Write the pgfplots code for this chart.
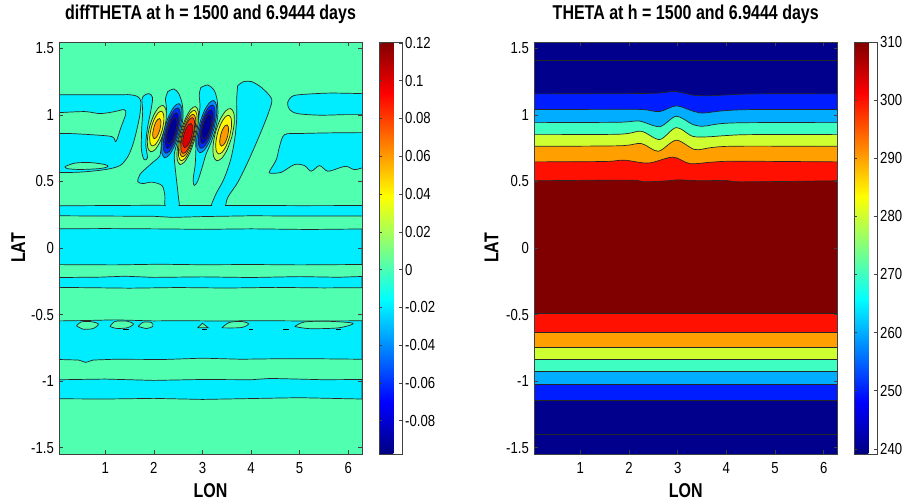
\documentclass[border=0pt]{standalone}
\usepackage{pgfplots}
\pgfplotsset{compat=1.18}
\usepackage{fontspec}
\setmainfont{Liberation Sans}
\newfontfamily\tickfont{Liberation Sans}[FakeStretch=0.82]
\newfontfamily\labfont{Liberation Sans}[FakeStretch=0.80]

\definecolor{mintc}{RGB}{80,255,175}
\definecolor{cyanc}{RGB}{0,236,255}
\definecolor{n02}{RGB}{0,143,255}
\definecolor{n04}{RGB}{0,45,255}
\definecolor{n06}{RGB}{0,0,210}
\definecolor{n08}{RGB}{0,0,150}
\definecolor{p02}{RGB}{168,255,87}
\definecolor{p04}{RGB}{255,248,0}
\definecolor{p06}{RGB}{255,155,0}
\definecolor{p08}{RGB}{255,61,0}
\definecolor{p10}{RGB}{221,0,0}
\definecolor{t240}{RGB}{0,0,140}
\definecolor{t250}{RGB}{0,29,255}
\definecolor{t260}{RGB}{0,173,255}
\definecolor{t270}{RGB}{62,255,193}
\definecolor{t280}{RGB}{206,255,49}
\definecolor{t290}{RGB}{255,160,0}
\definecolor{t300}{RGB}{255,16,0}
\definecolor{t310}{RGB}{128,0,0}

\pgfplotsset{
  ct/.style={draw=black!85, line width=0.7pt},
  mainax/.style={
    scale only axis, anchor=south west, height=412pt,
    xmin=0.049, xmax=6.283, ymin=-1.548, ymax=1.548,
    xtick={1,2,3,4,5,6}, xticklabels={1,2,3,4,5,6},
    ytick={-1.5,-1,-0.5,0,0.5,1,1.5}, yticklabels={-1.5,-1,-0.5,0,0.5,1,1.5},
    xticklabel pos=left, yticklabel pos=left,
    xtick pos=both, ytick pos=both,
    tick align=inside, major tick length=4pt,
    tick style={black!75, line width=0.5pt},
    axis line style={black!75, line width=0.6pt},
    axis on top,
    tick label style={font=\fontsize{16}{18}\tickfont},
    xticklabel style={anchor=base, yshift=-20pt, inner sep=0pt},
    yticklabel style={anchor=east, xshift=-5pt, inner sep=0pt},
    title style={font=\fontsize{20}{24}\labfont\bfseries, at={(0.5,1)}, anchor=base, yshift=16pt, inner sep=0pt},
    xlabel style={font=\fontsize{20}{24}\labfont\bfseries, at={(axis description cs:0.5,0)}, anchor=base, yshift=-44pt, inner sep=0pt},
    ylabel style={font=\fontsize{20}{24}\labfont\bfseries, anchor=base, inner sep=0pt},
    xlabel={LON}, ylabel={LAT},
    colormap/jet, colorbar,
  },
  cbar/.style={
    at={(parent axis.north east)}, anchor=north west,
    scale only axis, width=23pt, height=412pt,
    ytick pos=both, yticklabel pos=right,
    tick align=inside, major tick length=3pt,
    tick style={black!75, line width=0.5pt},
    axis line style={black!75, line width=0.6pt},
    yticklabel style={font=\fontsize{16}{18}\tickfont, anchor=west, xshift=3pt, inner sep=0pt},
    scaled y ticks=false,
  },
}

\begin{document}
\begin{tikzpicture}
\useasboundingbox (0,0) rectangle (905pt,502pt);
% ================= LEFT: diffTHETA =================
\begin{axis}[mainax, at={(59pt,48pt)}, width=303pt,
  ylabel style={at={(axis description cs:-0.112,0.5)}},
  title={diffTHETA at h = 1500 and 6.9444 days},
  point meta min=-0.0977, point meta max=0.1205,
  colorbar style={cbar, xshift=8.5pt,
    ytick={-0.08,-0.06,-0.04,-0.02,0,0.02,0.04,0.06,0.08,0.1,0.12},
    yticklabels={-0.08,-0.06,-0.04,-0.02,0,0.02,0.04,0.06,0.08,0.1,0.12}}]
\addplot[fill=mintc, draw=none] coordinates {(0.049,-1.548)(6.283,-1.548)(6.283,1.548)(0.049,1.548)};
% zonal bands
\addplot[fill=cyanc, ct] coordinates {(0.049,0.144)(1.0,0.146)(2.3,0.143)(3.0,0.140)(4.0,0.144)(5.2,0.139)(6.283,0.143)(6.283,-0.124)(5.0,-0.127)(4.0,-0.124)(3.0,-0.126)(2.1,-0.122)(1.2,-0.127)(0.049,-0.125)};
\addplot[fill=cyanc, ct] coordinates {(0.049,-0.222)(0.9,-0.219)(1.4,-0.212)(2.0,-0.221)(3.0,-0.217)(4.0,-0.222)(5.0,-0.215)(5.8,-0.220)(6.283,-0.214)(6.283,-0.298)(5.5,-0.300)(4.5,-0.296)(3.5,-0.301)(2.5,-0.297)(1.5,-0.302)(0.8,-0.299)(0.049,-0.296)};
\addplot[fill=cyanc, ct] coordinates {(0.049,-0.548)(0.6,-0.545)(1.2,-0.540)(2.0,-0.548)(2.6,-0.546)(3.3,-0.549)(4.2,-0.546)(5.2,-0.549)(6.283,-0.547)(6.283,-0.836)(5.5,-0.833)(4.6,-0.832)(3.8,-0.836)(3.0,-0.828)(2.2,-0.838)(1.2,-0.836)(0.75,-0.842)(0.6,-0.860)(0.45,-0.842)(0.049,-0.838)};
\addplot[fill=cyanc, ct] coordinates {(0.049,-0.990)(1.0,-0.985)(2.0,-0.995)(3.0,-0.988)(4.0,-0.990)(4.4,-0.980)(5.5,-0.990)(6.283,-0.988)(6.283,-1.135)(5.0,-1.125)(4.5,-1.128)(3.0,-1.138)(2.0,-1.130)(1.0,-1.135)(0.049,-1.133)};
% islands near -0.58
\addplot[fill=mintc, ct, smooth] coordinates {(0.41,-0.585)(0.50,-0.556)(0.70,-0.553)(0.86,-0.572)(0.75,-0.605)(0.55,-0.610)(0.41,-0.585)};
\addplot[fill=mintc, ct, smooth] coordinates {(1.10,-0.590)(1.20,-0.552)(1.45,-0.550)(1.58,-0.572)(1.45,-0.600)(1.22,-0.604)(1.10,-0.590)};
\addplot[fill=mintc, ct, smooth] coordinates {(1.68,-0.590)(1.78,-0.558)(1.95,-0.560)(1.98,-0.588)(1.85,-0.605)(1.68,-0.590)};
\addplot[fill=mintc, ct] coordinates {(2.90,-0.600)(3.00,-0.565)(3.12,-0.600)(2.90,-0.600)};
\addplot[fill=mintc, ct, smooth] coordinates {(3.40,-0.600)(3.55,-0.560)(3.80,-0.552)(3.95,-0.570)(3.80,-0.598)(3.40,-0.600)};
\addplot[fill=mintc, ct, smooth] coordinates {(4.90,-0.590)(5.10,-0.556)(5.60,-0.551)(6.10,-0.566)(5.80,-0.600)(5.20,-0.606)(4.90,-0.590)};
\addplot[black, line width=1.3pt] coordinates {(1.36,-0.612)(1.48,-0.612)};
\addplot[black, line width=1.3pt] coordinates {(3.00,-0.612)(3.10,-0.612)};
\addplot[black, line width=1.3pt] coordinates {(3.95,-0.612)(4.05,-0.612)};
\addplot[black, line width=1.3pt] coordinates {(4.66,-0.612)(4.78,-0.612)};
\addplot[black, line width=1.3pt] coordinates {(5.74,-0.612)(5.86,-0.612)};
% upper-left region
\addplot[fill=cyanc, ct, smooth] coordinates {(0.049,1.152)(1.302,1.152)(1.507,1.152)(1.671,1.137)(1.733,1.100)(1.713,1.002)(1.651,0.890)(1.569,0.777)(1.466,0.687)(1.302,0.619)(0.994,0.589)(0.480,0.570)(0.049,0.567)};
\addplot[fill=mintc, ct, smooth] coordinates {(0.049,1.017)(0.583,1.025)(0.891,1.010)(1.199,1.025)(1.384,1.040)(1.425,1.010)(1.322,0.905)(1.220,0.800)(1.138,0.837)(0.686,0.852)(0.275,0.860)(0.049,0.860)};
\addplot[fill=mintc, ct, smooth] coordinates {(0.172,0.612)(0.378,0.638)(0.686,0.642)(0.994,0.627)(1.055,0.612)(0.891,0.597)(0.480,0.590)(0.214,0.597)(0.172,0.612)};
% upper-right regions
\addplot[fill=cyanc, ct, smooth] coordinates {(6.283,1.160)(5.614,1.164)(4.998,1.152)(4.834,1.137)(4.752,1.092)(4.793,1.040)(4.957,1.010)(5.409,0.998)(5.922,1.002)(6.283,1.002)};
\addplot[fill=cyanc, ct, smooth] coordinates {(6.283,0.867)(5.614,0.865)(4.998,0.860)(4.690,0.852)(4.587,0.764)(4.520,0.664)(4.382,0.577)(4.400,0.562)(4.622,0.569)(4.895,0.627)(5.100,0.619)(5.238,0.577)(5.409,0.619)(5.579,0.577)(5.819,0.602)(5.957,0.614)(6.127,0.589)(6.283,0.602)};
% negative halos of the wave packet
\addplot[fill=cyanc, ct, smooth] coordinates {(1.795,1.145)(1.897,1.160)(1.975,1.130)(1.935,1.025)(1.870,0.905)(1.835,0.777)(1.870,0.679)(1.800,0.664)(1.745,0.740)(1.750,0.890)(1.770,1.025)(1.754,1.115)(1.795,1.145)};
\addplot[fill=cyanc, ct, smooth] coordinates {(2.287,1.175)(2.411,1.195)(2.513,1.160)(2.585,1.080)(2.600,0.980)(2.545,0.870)(2.470,0.780)(2.420,0.700)(2.440,0.600)(2.470,0.500)(2.500,0.400)(2.513,0.289)(2.246,0.289)(2.226,0.400)(2.164,0.470)(1.959,0.495)(1.774,0.484)(1.671,0.499)(1.713,0.552)(1.856,0.604)(2.000,0.650)(2.120,0.690)(2.150,0.760)(2.160,0.850)(2.205,0.930)(2.260,1.040)(2.240,1.120)(2.287,1.175)};
\addplot[fill=cyanc, ct, smooth] coordinates {(2.965,1.205)(3.109,1.225)(3.232,1.190)(3.300,1.120)(3.318,1.000)(3.265,0.890)(3.175,0.790)(3.070,0.700)(2.990,0.600)(2.900,0.500)(2.830,0.470)(2.810,0.520)(2.850,0.620)(2.865,0.740)(2.862,0.830)(2.905,0.935)(2.950,1.060)(2.935,1.150)(2.965,1.205)};
\addplot[fill=cyanc, ct, smooth] coordinates {(3.725,1.220)(3.848,1.250)(4.012,1.250)(4.218,1.205)(4.423,1.122)(4.382,1.040)(4.258,0.920)(4.094,0.777)(3.910,0.627)(3.725,0.492)(3.520,0.379)(3.437,0.289)(3.170,0.289)(3.273,0.402)(3.437,0.514)(3.581,0.664)(3.663,0.815)(3.704,0.965)(3.704,1.115)(3.725,1.220)};
% band near 0.28
\addplot[fill=cyanc, draw=none] coordinates {(0.049,0.317)(1.0,0.319)(2.0,0.321)(3.0,0.319)(4.0,0.320)(5.0,0.318)(6.283,0.319)(6.283,0.241)(5.0,0.240)(4.0,0.242)(3.0,0.236)(2.4,0.230)(2.0,0.238)(1.0,0.240)(0.049,0.242)};
\addplot[ct] coordinates {(0.049,0.317)(1.0,0.319)(2.0,0.321)(2.241,0.320)};
\addplot[ct] coordinates {(2.509,0.320)(3.0,0.319)(3.197,0.319)};
\addplot[ct] coordinates {(3.465,0.320)(4.0,0.320)(5.0,0.318)(6.283,0.319)};
\addplot[ct] coordinates {(0.049,0.242)(1.0,0.240)(2.0,0.238)(2.4,0.230)(3.0,0.236)(4.0,0.242)(5.0,0.240)(6.283,0.241)};
% ---- level 1 rings
\addplot[fill=p02, ct, smooth] coordinates {(2.211,0.882)(2.127,0.797)(2.026,0.739)(1.934,0.723)(1.877,0.754)(1.869,0.823)(1.913,0.912)(1.997,0.997)(2.098,1.055)(2.190,1.071)(2.247,1.040)(2.255,0.971)(2.211,0.882)};
\addplot[fill=n02, ct, smooth] coordinates {(2.521,0.867)(2.426,0.768)(2.317,0.699)(2.221,0.679)(2.166,0.714)(2.165,0.793)(2.219,0.897)(2.314,0.996)(2.424,1.065)(2.519,1.085)(2.574,1.051)(2.575,0.971)(2.521,0.867)};
\addplot[fill=p02, ct, smooth] coordinates {(2.853,0.830)(2.752,0.723)(2.637,0.649)(2.539,0.627)(2.483,0.664)(2.484,0.749)(2.543,0.860)(2.644,0.967)(2.759,1.041)(2.858,1.063)(2.914,1.026)(2.912,0.941)(2.853,0.830)};
\addplot[fill=n02, ct, smooth] coordinates {(3.239,0.897)(3.147,0.801)(3.039,0.735)(2.944,0.716)(2.888,0.750)(2.886,0.827)(2.937,0.927)(3.029,1.023)(3.137,1.089)(3.232,1.108)(3.288,1.074)(3.290,0.997)(3.239,0.897)};
\addplot[fill=p02, ct, smooth] coordinates {(3.606,0.836)(3.511,0.740)(3.397,0.674)(3.293,0.656)(3.228,0.691)(3.219,0.768)(3.268,0.869)(3.363,0.964)(3.477,1.030)(3.581,1.048)(3.646,1.013)(3.655,0.936)(3.606,0.836)};
% ---- level 2 rings
\addplot[fill=p04, ct, smooth] coordinates {(2.173,0.886)(2.110,0.822)(2.035,0.779)(1.966,0.767)(1.924,0.789)(1.918,0.841)(1.951,0.908)(2.014,0.972)(2.089,1.015)(2.158,1.028)(2.200,1.005)(2.206,0.953)(2.173,0.886)};
\addplot[fill=n04, ct, smooth] coordinates {(2.495,0.870)(2.416,0.786)(2.324,0.728)(2.245,0.712)(2.199,0.741)(2.199,0.807)(2.245,0.894)(2.324,0.978)(2.416,1.036)(2.495,1.052)(2.541,1.024)(2.541,0.957)(2.495,0.870)};
\addplot[fill=p04, ct, smooth] coordinates {(2.833,0.832)(2.746,0.739)(2.646,0.675)(2.560,0.656)(2.511,0.688)(2.512,0.762)(2.563,0.858)(2.650,0.951)(2.750,1.015)(2.836,1.034)(2.885,1.002)(2.884,0.928)(2.833,0.832)};
\addplot[fill=n04, ct, smooth] coordinates {(3.213,0.900)(3.136,0.820)(3.047,0.765)(2.968,0.749)(2.922,0.777)(2.920,0.841)(2.963,0.924)(3.040,1.004)(3.129,1.059)(3.208,1.075)(3.254,1.047)(3.256,0.983)(3.213,0.900)};
\addplot[fill=p04, ct, smooth] coordinates {(3.562,0.840)(3.492,0.769)(3.407,0.720)(3.331,0.707)(3.282,0.733)(3.276,0.790)(3.312,0.864)(3.382,0.935)(3.467,0.984)(3.543,0.997)(3.592,0.972)(3.598,0.914)(3.562,0.840)};
% ---- level 3 rings
\addplot[fill=p06, ct, smooth] coordinates {(2.126,0.891)(2.089,0.854)(2.045,0.828)(2.006,0.821)(1.982,0.834)(1.979,0.864)(1.999,0.903)(2.035,0.941)(2.079,0.966)(2.118,0.973)(2.142,0.960)(2.145,0.930)(2.126,0.891)};
\addplot[fill=n06, ct, smooth] coordinates {(2.469,0.872)(2.407,0.807)(2.334,0.761)(2.272,0.748)(2.235,0.771)(2.235,0.823)(2.271,0.892)(2.333,0.958)(2.406,1.003)(2.468,1.016)(2.505,0.993)(2.505,0.941)(2.469,0.872)};
\addplot[fill=p06, ct, smooth] coordinates {(2.813,0.834)(2.739,0.755)(2.654,0.701)(2.581,0.686)(2.539,0.713)(2.540,0.775)(2.583,0.856)(2.657,0.935)(2.742,0.989)(2.815,1.005)(2.857,0.978)(2.856,0.915)(2.813,0.834)};
\addplot[fill=n06, ct, smooth] coordinates {(3.187,0.902)(3.127,0.840)(3.057,0.797)(2.995,0.785)(2.958,0.807)(2.956,0.857)(2.989,0.922)(3.049,0.984)(3.119,1.027)(3.181,1.039)(3.218,1.017)(3.220,0.967)(3.187,0.902)};
\addplot[fill=p06, ct, smooth] coordinates {(3.516,0.838)(3.478,0.799)(3.431,0.773)(3.389,0.765)(3.362,0.779)(3.358,0.811)(3.378,0.852)(3.416,0.891)(3.463,0.918)(3.506,0.925)(3.532,0.911)(3.536,0.879)(3.516,0.838)};
% ---- level 4 and 5
\addplot[fill=n08, ct, smooth] coordinates {(2.449,0.874)(2.403,0.826)(2.348,0.793)(2.298,0.784)(2.268,0.801)(2.265,0.840)(2.291,0.890)(2.337,0.938)(2.393,0.971)(2.442,0.980)(2.472,0.963)(2.475,0.924)(2.449,0.874)};
\addplot[fill=p08, ct, smooth] coordinates {(2.801,0.835)(2.738,0.769)(2.664,0.724)(2.600,0.711)(2.561,0.734)(2.560,0.787)(2.595,0.855)(2.658,0.921)(2.732,0.966)(2.796,0.979)(2.835,0.956)(2.837,0.903)(2.801,0.835)};
\addplot[fill=n08, ct, smooth] coordinates {(3.167,0.904)(3.122,0.858)(3.068,0.826)(3.019,0.818)(2.989,0.834)(2.985,0.872)(3.009,0.920)(3.054,0.966)(3.108,0.998)(3.157,1.006)(3.188,0.990)(3.191,0.953)(3.167,0.904)};
\addplot[fill=p10, ct, smooth] coordinates {(2.777,0.837)(2.734,0.793)(2.680,0.763)(2.632,0.754)(2.601,0.770)(2.596,0.806)(2.619,0.853)(2.663,0.897)(2.716,0.927)(2.765,0.936)(2.795,0.920)(2.800,0.884)(2.777,0.837)};
\end{axis}
% ================= RIGHT: THETA =================
\begin{axis}[mainax, at={(534pt,48pt)}, width=303.5pt,
  ylabel style={at={(axis description cs:-0.117,0.5)}},
  title={THETA at h = 1500 and 6.9444 days},
  point meta min=239.1, point meta max=310,
  colorbar style={cbar, xshift=8pt,
    ytick={240,250,260,270,280,290,300,310},
    yticklabels={240,250,260,270,280,290,300,310}}]
\addplot[fill=t240, draw=none] coordinates {(0.049,-1.548)(6.283,-1.548)(6.283,1.548)(0.049,1.548)};
\addplot[fill=t250, draw=none, smooth] coordinates {(0.049,1.158)(2.0,1.160)(2.6,1.164)(2.95,1.176)(3.3,1.150)(3.6,1.143)(4.0,1.150)(4.6,1.158)(6.283,1.158)} \closedcycle;
\addplot[fill=t260, draw=none, smooth] coordinates {(0.049,1.040)(1.8,1.042)(2.3,1.040)(2.63,1.025)(2.97,1.068)(3.3,1.030)(3.52,1.014)(3.9,1.030)(4.5,1.040)(6.283,1.040)} \closedcycle;
\addplot[fill=t270, draw=none, smooth] coordinates {(0.049,0.942)(1.8,0.945)(2.2,0.955)(2.63,0.912)(2.97,0.990)(3.3,0.930)(3.52,0.915)(3.9,0.935)(4.5,0.942)(6.283,0.942)} \closedcycle;
\addplot[fill=t280, draw=none, smooth] coordinates {(0.049,0.852)(1.8,0.855)(2.25,0.877)(2.63,0.815)(2.97,0.905)(3.3,0.840)(3.6,0.835)(4.0,0.845)(4.5,0.852)(6.283,0.852)} \closedcycle;
\addplot[fill=t290, draw=none, smooth] coordinates {(0.049,0.764)(1.8,0.768)(2.25,0.785)(2.6,0.727)(2.97,0.810)(3.35,0.740)(3.7,0.755)(4.2,0.765)(6.283,0.764)} \closedcycle;
\addplot[fill=t300, draw=none, smooth] coordinates {(0.049,0.647)(1.5,0.650)(1.9,0.660)(2.4,0.638)(2.9,0.683)(3.25,0.634)(3.7,0.645)(4.2,0.652)(6.283,0.647)} \closedcycle;
\addplot[fill=t310, draw=none, smooth] coordinates {(0.049,0.505)(2.0,0.510)(2.3,0.497)(2.8,0.505)(3.0,0.512)(3.5,0.505)(4.0,0.508)(4.3,0.497)(6.283,0.505)} \closedcycle;
\addplot[fill=t250, draw=none] coordinates {(0.049,-1.143)(6.283,-1.143)(6.283,0)(0.049,0)};
\addplot[fill=t260, draw=none] coordinates {(0.049,-1.025)(6.283,-1.025)(6.283,0)(0.049,0)};
\addplot[fill=t270, draw=none] coordinates {(0.049,-0.925)(6.283,-0.925)(6.283,0)(0.049,0)};
\addplot[fill=t280, draw=none] coordinates {(0.049,-0.835)(6.283,-0.835)(6.283,0)(0.049,0)};
\addplot[fill=t290, draw=none] coordinates {(0.049,-0.745)(6.283,-0.745)(6.283,0)(0.049,0)};
\addplot[fill=t300, draw=none] coordinates {(0.049,-0.632)(6.283,-0.632)(6.283,0)(0.049,0)};
\addplot[fill=t310, draw=none] coordinates {(0.049,-0.492)(6.283,-0.492)(6.283,0)(0.049,0)};
% contour lines
\addplot[ct] coordinates {(0.049,1.412)(6.283,1.412)};
\addplot[ct, smooth] coordinates {(0.049,1.158)(2.0,1.160)(2.6,1.164)(2.95,1.176)(3.3,1.150)(3.6,1.143)(4.0,1.150)(4.6,1.158)(6.283,1.158)};
\addplot[ct, smooth] coordinates {(0.049,1.040)(1.8,1.042)(2.3,1.040)(2.63,1.025)(2.97,1.068)(3.3,1.030)(3.52,1.014)(3.9,1.030)(4.5,1.040)(6.283,1.040)};
\addplot[ct, smooth] coordinates {(0.049,0.942)(1.8,0.945)(2.2,0.955)(2.63,0.912)(2.97,0.990)(3.3,0.930)(3.52,0.915)(3.9,0.935)(4.5,0.942)(6.283,0.942)};
\addplot[ct, smooth] coordinates {(0.049,0.852)(1.8,0.855)(2.25,0.877)(2.63,0.815)(2.97,0.905)(3.3,0.840)(3.6,0.835)(4.0,0.845)(4.5,0.852)(6.283,0.852)};
\addplot[ct, smooth] coordinates {(0.049,0.764)(1.8,0.768)(2.25,0.785)(2.6,0.727)(2.97,0.810)(3.35,0.740)(3.7,0.755)(4.2,0.765)(6.283,0.764)};
\addplot[ct, smooth] coordinates {(0.049,0.647)(1.5,0.650)(1.9,0.660)(2.4,0.638)(2.9,0.683)(3.25,0.634)(3.7,0.645)(4.2,0.652)(6.283,0.647)};
\addplot[ct, smooth] coordinates {(0.049,0.505)(2.0,0.510)(2.3,0.497)(2.8,0.505)(3.0,0.512)(3.5,0.505)(4.0,0.508)(4.3,0.497)(6.283,0.505)};
\addplot[ct] coordinates {(0.049,-0.492)(6.283,-0.492)};
\addplot[ct] coordinates {(0.049,-0.632)(6.283,-0.632)};
\addplot[ct] coordinates {(0.049,-0.745)(6.283,-0.745)};
\addplot[ct] coordinates {(0.049,-0.835)(6.283,-0.835)};
\addplot[ct] coordinates {(0.049,-0.925)(6.283,-0.925)};
\addplot[ct] coordinates {(0.049,-1.025)(6.283,-1.025)};
\addplot[ct] coordinates {(0.049,-1.143)(6.283,-1.143)};
\addplot[ct] coordinates {(0.049,-1.400)(6.283,-1.400)};
\end{axis}
\end{tikzpicture}
\end{document}
